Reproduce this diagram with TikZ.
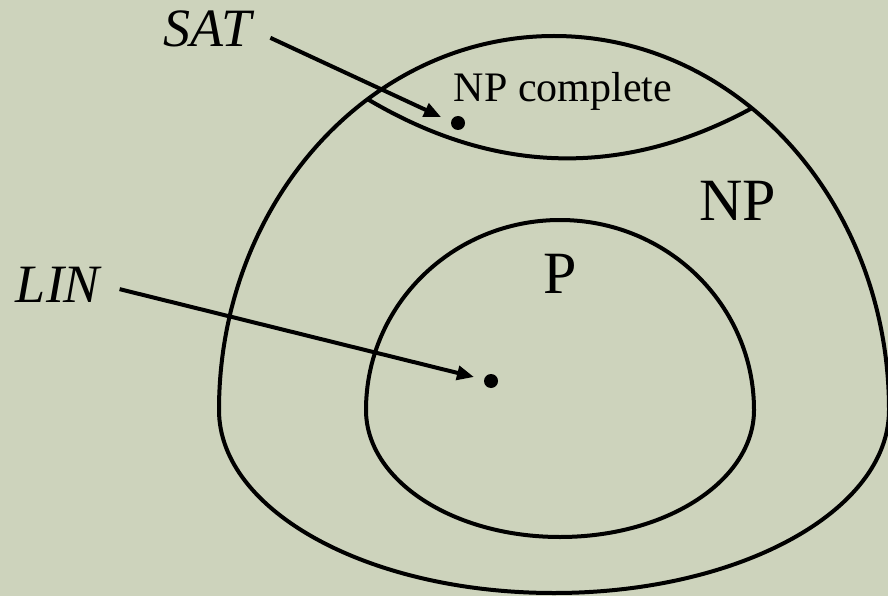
\documentclass[tikz,border=0pt]{standalone}
\usepackage{fontspec}
\setmainfont{Liberation Serif}
\usetikzlibrary{arrows.meta}
\definecolor{bgsage}{RGB}{205,211,188}
\tikzset{
  setline/.style   = {line width=4pt, black},
  pointer/.style   = {line width=4pt, black, -{Triangle[length=17pt,width=14pt]},
                      shorten <=20pt},
  elem/.style      = {circle, fill=black, inner sep=0pt, minimum size=14pt},
  tag/.style       = {inner sep=0pt, anchor=base, font=\fontsize{54}{64}\selectfont\itshape},
  classname/.style = {inner sep=0pt, anchor=base, font=\fontsize{60}{72}\selectfont},
  sublabel/.style  = {inner sep=0pt, anchor=base, font=\fontsize{42}{50}\selectfont},
}

\begin{document}
\begin{tikzpicture}[x=1pt,y=-1pt]

      \fill[bgsage] (0,0) rectangle (888,596);
      \useasboundingbox (0,0) rectangle (888,596);

      % NP
      \draw[setline] (219,410) arc[start angle=180, end angle=360, x radius=335, y radius=374]
                     arc[start angle=0, end angle=180, x radius=335, y radius=183];
      % P
      \draw[setline] (366,410) arc[start angle=180, end angle=360, x radius=194, y radius=190]
                     arc[start angle=0, end angle=180, x radius=194, y radius=127];
      % NP complete cap
      \path (554,410) ++(236.2:335 and 374) coordinate (lensL);
      \path (554,410) ++(306.2:335 and 374) coordinate (lensR);
      \draw[setline] (lensL) .. controls (497,176) and (625,177) .. (lensR);

      \node[sublabel]  (npc) at (563,102) {NP complete};
      \node[classname] (np)  at (738,220) {NP};
      \node[classname] (p)   at (560,293) {P};
      \node[tag]       (sat) at (208,47)  {SAT};
      \node[tag]       (lin) at (58,302)  {LIN};

      \node[elem] (satpt) at (458,123) {};
      \node[elem] (linpt) at (491,381) {};
      \coordinate (sattip) at (441,117);
      \coordinate (lintip) at (474,377);

      \draw[pointer] (sat.east) -- (sattip);
      \draw[pointer] (lin.east) -- (lintip);

\end{tikzpicture}
\end{document}
